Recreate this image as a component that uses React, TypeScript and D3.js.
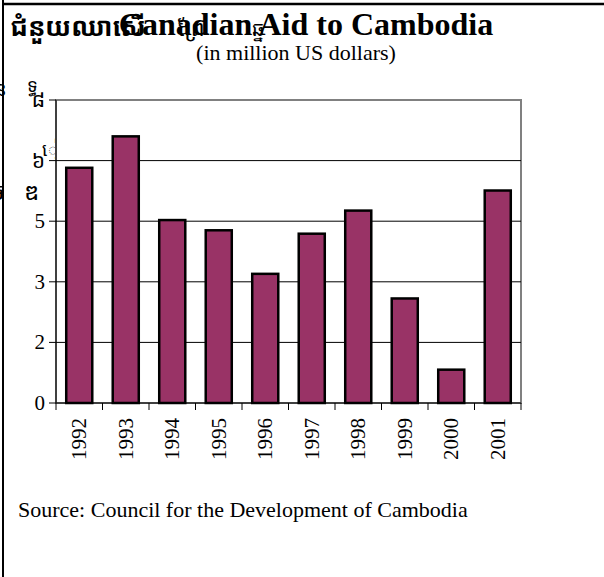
import * as d3 from 'd3'

const years = ['1992', '1993', '1994', '1995', '1996', '1997', '1998', '1999', '2000', '2001']
const aid = [6.21, 7.04, 4.83, 4.56, 3.41, 4.47, 5.08, 2.76, 0.88, 5.61]
const yTicks = [0, 1.6, 3.2, 4.8, 6.4, 8]
const yTickLabels = ['0', '2', '3', '5', '៦', '៨']

const W = 604
const H = 577
const plot = { left: 56, right: 521, top: 100, bottom: 403 }
const serif = '"Liberation Serif", "Times New Roman", serif'
const khmerFont = '"Khmer OS", "Noto Sans Khmer", "Noto Serif Khmer", serif'

export default function App() {
  const x = d3.scaleBand<string>().domain(years).range([plot.left, plot.right])
  const y = d3.scaleLinear().domain([0, 8]).range([plot.bottom, plot.top])
  const barW = x.bandwidth() * 0.56

  return (
    <svg
      width={W}
      height={H}
      style={{ position: 'absolute', left: 0, top: 0, background: '#fff' }}
    >
      {/* stray Khmer text from the original page */}
      <g fontFamily={khmerFont} fill="#000">
        <text x={10} y={36} fontSize={26} fontWeight="bold">ជំនួយឈាសើ</text>
        <text x={178} y={36} fontSize={22}>ព្រែ</text>
        <text x={252} y={36} fontSize={20}>ឆ្ន</text>
        <text x={-6} y={96} fontSize={20}>ន</text>
        <text x={27} y={92} fontSize={18}>ទ្ធ</text>
        <text x={42} y={156} fontSize={18}>ៀ៖</text>
        <text x={-10} y={200} fontSize={24}>ច</text>
        <text x={24} y={200} fontSize={24}>ឌ</text>
      </g>

      {/* title */}
      <text x={306} y={35} textAnchor="middle" fontFamily={serif} fontSize={32} fontWeight="bold">
        Canadian Aid to Cambodia
      </text>
      <text x={296} y={60} textAnchor="middle" fontFamily={serif} fontSize={22}>
        (in million US dollars)
      </text>

      {/* plot area */}
      <rect
        x={plot.left}
        y={plot.top}
        width={plot.right - plot.left}
        height={plot.bottom - plot.top}
        fill="#fff"
        stroke="#808080"
        strokeWidth={2}
      />

      {/* gridlines */}
      {yTicks.slice(1, -1).map(t => (
        <line key={t} x1={plot.left} x2={plot.right} y1={y(t)} y2={y(t)} stroke="#000" strokeWidth={1} />
      ))}

      {/* bars */}
      {aid.map((v, i) => {
        const cx = (x(years[i]) ?? 0) + x.bandwidth() / 2
        return (
          <rect
            key={years[i]}
            x={cx - barW / 2}
            y={y(v)}
            width={barW}
            height={y(0) - y(v)}
            fill="#993366"
            stroke="#000"
            strokeWidth={2.5}
          />
        )
      })}

      {/* y axis */}
      <line x1={plot.left} x2={plot.left} y1={plot.top} y2={plot.bottom} stroke="#000" strokeWidth={1} />
      {yTicks.map((t, i) => (
        <g key={t}>
          <line x1={plot.left - 7} x2={plot.left} y1={y(t)} y2={y(t)} stroke="#000" />
          <text
            x={plot.left - 11}
            y={y(t) + 7}
            textAnchor="end"
            fontFamily={i >= 4 ? khmerFont : serif}
            fontSize={21}
          >
            {yTickLabels[i]}
          </text>
        </g>
      ))}

      {/* x axis */}
      <line x1={plot.left} x2={plot.right} y1={plot.bottom} y2={plot.bottom} stroke="#000" strokeWidth={1} />
      {[...years.map(yr => x(yr) ?? 0), plot.right].map((tx, i) => (
        <line key={i} x1={tx} x2={tx} y1={plot.bottom} y2={plot.bottom + 7} stroke="#000" />
      ))}
      {years.map(yr => {
        const cx = (x(yr) ?? 0) + x.bandwidth() / 2
        return (
          <text
            key={yr}
            transform={`translate(${cx + 7},418) rotate(-90)`}
            textAnchor="end"
            fontFamily={serif}
            fontSize={21}
          >
            {yr}
          </text>
        )
      })}

      <text x={18} y={517} fontFamily={serif} fontSize={22}>
        Source: Council for the Development of Cambodia
      </text>

      {/* page borders */}
      <line x1={3} x2={3} y1={0} y2={H} stroke="#000" strokeWidth={2} />
      <line x1={3} x2={W} y1={4} y2={4} stroke="#000" strokeWidth={2.5} />
    </svg>
  )
}
